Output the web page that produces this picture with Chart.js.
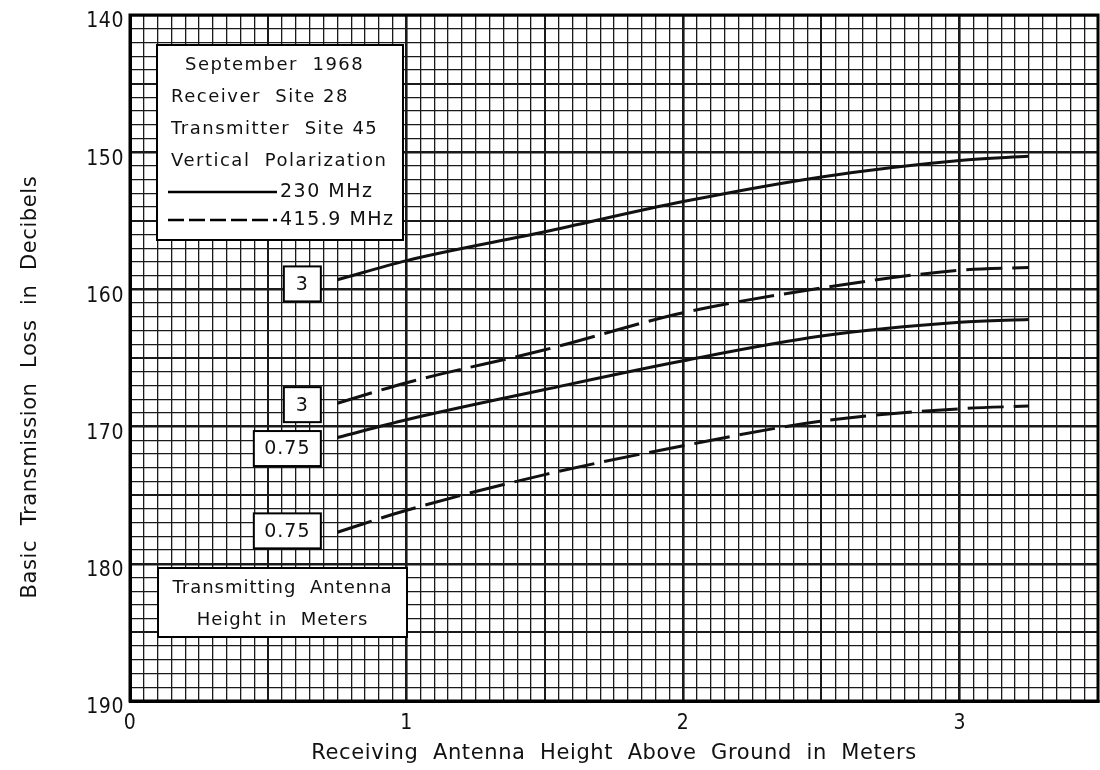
<!DOCTYPE html>
<html>
<head>
<meta charset="utf-8">
<script src="https://cdn.jsdelivr.net/npm/chart.js@4.4.1/dist/chart.umd.min.js"></script>
<style>
    html, body { margin: 0; padding: 0; background: #fff; }
</style>
</head>
<body>
<canvas id="lossChart" width="1100" height="770"></canvas>
<script>
// receiving antenna height (m)
const heights = [0.75, 1.0, 1.5, 2.0, 2.5, 3.0, 3.25];
// basic transmission loss (dB)
const loss230_tx3 = [159.3, 157.9, 155.8, 153.6, 151.8, 150.6, 150.3];
const loss416_tx3 = [168.3, 166.8, 164.4, 161.7, 159.9, 158.6, 158.4];
const loss230_tx075 = [170.8, 169.5, 167.3, 165.2, 163.4, 162.4, 162.2];
const loss416_tx075 = [177.7, 176.1, 173.5, 171.4, 169.6, 168.7, 168.5];

const xTickLabels = [0, 1, 2, 3];
const yTickLabels = [140, 150, 160, 170, 180, 190];
const seriesNames = ['230 MHz', '415.9 MHz'];
const txHeightLabels = ['3', '3', '0.75', '0.75'];
const infoLines = ['Receiver  Site 28', 'Transmitter  Site 45', 'Vertical  Polarization'];

const TICK_FONT = '"DejaVu Sans Condensed", "Liberation Sans Narrow", sans-serif';
const TEXT_FONT = '"DejaVu Sans", sans-serif';
const DASH = [36, 10];

function toPoints(ys) {
    return heights.map((h, i) => ({ x: h, y: ys[i] }));
}

function curve(ys, dashed) {
    return {
        data: toPoints(ys),
        borderColor: '#111',
        borderWidth: 3,
        borderDash: dashed ? DASH : [],
        pointRadius: 0,
        fill: false,
        cubicInterpolationMode: 'monotone'
    };
}

// heavier lines on whole and half units
function gridWidth(v, step) {
    const n = Math.round(v / step);
    if (step === 1) {
        if (n % 10 === 0) return 2.6;
        if (n % 5 === 0) return 2;
        return 1.3;
    }
    if (n % 20 === 0) return 2.6;
    if (n % 10 === 0) return 2;
    return 1.3;
}

// a little letter spacing for axis text, like the hand lettering
const spacingPlugin = {
    id: 'spacing',
    beforeDraw(chart) { chart.ctx.letterSpacing = '0.6px'; },
    beforeDatasetsDraw(chart) { chart.ctx.letterSpacing = '0px'; }
};

// boxes, legend and frame drawn on top
const overlayPlugin = {
    id: 'overlay',
    afterDatasetsDraw(chart) {
        const { ctx, chartArea: a, scales: { x, y } } = chart;
        ctx.save();
        ctx.strokeStyle = '#000';
        ctx.lineWidth = 3;
        ctx.strokeRect(a.left, a.top, a.right - a.left, a.bottom - a.top);

        // info legend
        const lx = a.left + 27, ly = a.top + 30, lw = 246, lh = 195;
        ctx.fillStyle = '#fff';
        ctx.fillRect(lx, ly, lw, lh);
        ctx.lineWidth = 2;
        ctx.strokeRect(lx, ly, lw, lh);
        ctx.fillStyle = '#111';
        ctx.letterSpacing = '1.5px';
        ctx.font = '18px ' + TEXT_FONT;
        ctx.textBaseline = 'middle';
        ctx.textAlign = 'left';
        ctx.fillText('September  1968', lx + 28, ly + 20);
        infoLines.forEach((t, i) => ctx.fillText(t, lx + 14, ly + 52 + i * 32));
        seriesNames.forEach((t, i) => {
            const yy = ly + 147 + i * 28;
            ctx.beginPath();
            ctx.setLineDash(i ? [16, 5] : []);
            ctx.lineWidth = 2.5;
            ctx.moveTo(lx + 11, yy);
            ctx.lineTo(lx + 120, yy);
            ctx.stroke();
            ctx.setLineDash([]);
            ctx.font = '19px ' + TEXT_FONT;
            ctx.fillText(t, lx + 123, yy);
        });

        // transmitting antenna note
        const bx = a.left + 28, by = a.top + 553, bw = 249, bh = 69;
        ctx.fillStyle = '#fff';
        ctx.fillRect(bx, by, bw, bh);
        ctx.lineWidth = 2;
        ctx.strokeRect(bx, by, bw, bh);
        ctx.fillStyle = '#111';
        ctx.font = '18px ' + TEXT_FONT;
        ctx.letterSpacing = '1px';
        ctx.textAlign = 'center';
        ctx.fillText('Transmitting  Antenna', bx + bw / 2, by + 20);
        ctx.fillText('Height in  Meters', bx + bw / 2, by + 52);

        // curve labels, right edge just left of each curve start
        const anchors = [[0.69, 159.6, 37], [0.69, 168.4, 37], [0.69, 171.6, 67], [0.69, 177.6, 67]];
        txHeightLabels.forEach((t, i) => {
            const [xv, yv, w] = anchors[i];
            const px = x.getPixelForValue(xv), py = y.getPixelForValue(yv);
            const h = 35;
            ctx.fillStyle = '#fff';
            ctx.fillRect(px - w, py - h / 2, w, h);
            ctx.lineWidth = 2;
            ctx.strokeRect(px - w, py - h / 2, w, h);
            ctx.fillStyle = '#111';
            ctx.font = '19px ' + TEXT_FONT;
            ctx.textAlign = 'center';
            ctx.fillText(t, px - w / 2, py + 1);
        });
        ctx.restore();
    }
};

new Chart(document.getElementById('lossChart'), {
    type: 'line',
    data: {
        datasets: [
            curve(loss230_tx3, false),
            curve(loss416_tx3, true),
            curve(loss230_tx075, false),
            curve(loss416_tx075, true)
        ]
    },
    options: {
        responsive: false,
        animation: false,
        layout: { padding: { top: 15, right: 2, left: 0, bottom: 0 } },
        plugins: {
            legend: { display: false },
            tooltip: { enabled: false }
        },
        scales: {
            x: {
                type: 'linear',
                min: 0,
                max: 3.5,
                afterFit: (s) => { s.height = 69; s.paddingLeft = 0; s.paddingRight = 0; },
                border: { display: true, width: 3, color: '#000' },
                grid: {
                    drawTicks: false,
                    color: '#1a1a1a',
                    lineWidth: (c) => gridWidth(c.tick ? c.tick.value : 0, 0.05)
                },
                ticks: {
                    stepSize: 0.05,
                    autoSkip: false,
                    maxRotation: 0,
                    padding: 10,
                    color: '#111',
                    font: { family: TICK_FONT, size: 21 },
                    callback: (v) => {
                        const r = Math.round(v * 20) / 20;
                        return xTickLabels.includes(r) ? String(r) : '';
                    }
                },
                title: {
                    display: true,
                    text: 'Receiving  Antenna  Height  Above  Ground  in  Meters',
                    color: '#111',
                    font: { family: TEXT_FONT, size: 21 },
                    padding: { top: 0, bottom: 4 }
                }
            },
            y: {
                type: 'linear',
                reverse: true,
                min: 140,
                max: 190,
                afterFit: (s) => { s.width = 130; s.paddingTop = 0; s.paddingBottom = 0; },
                border: { display: true, width: 3, color: '#000' },
                grid: {
                    drawTicks: false,
                    color: '#1a1a1a',
                    lineWidth: (c) => gridWidth(c.tick ? c.tick.value : 0, 1)
                },
                ticks: {
                    stepSize: 1,
                    autoSkip: false,
                    padding: 6,
                    labelOffset: 7,
                    color: '#111',
                    font: { family: TICK_FONT, size: 21 },
                    callback: (v) => yTickLabels.includes(v) ? String(v) : ''
                },
                title: {
                    display: true,
                    text: 'Basic  Transmission  Loss  in  Decibels        ',
                    color: '#111',
                    font: { family: TEXT_FONT, size: 21 },
                    padding: { top: 18, bottom: 0 }
                }
            }
        }
    },
    plugins: [spacingPlugin, overlayPlugin]
});
</script>
</body>
</html>
